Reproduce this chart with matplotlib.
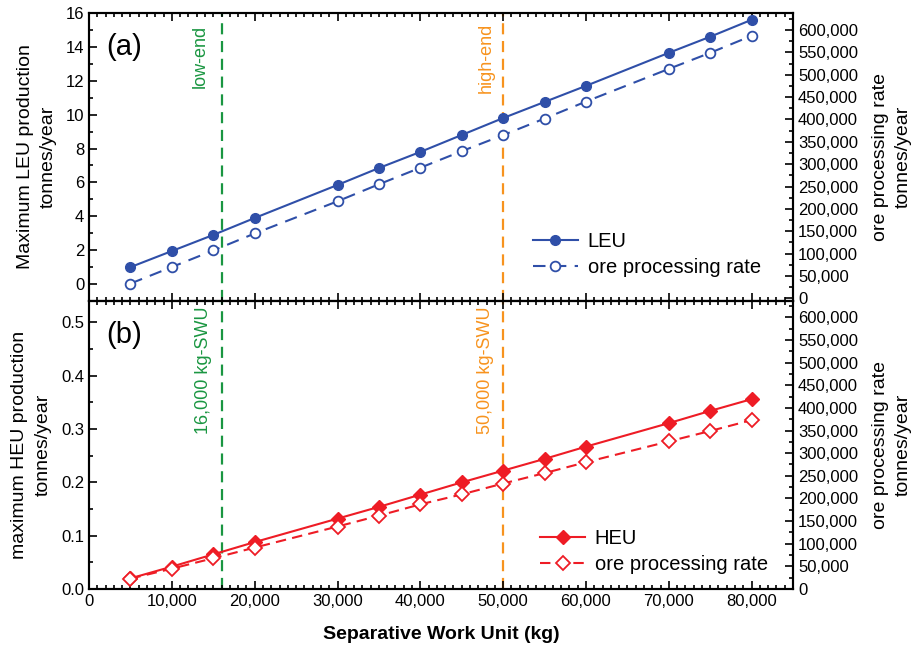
import matplotlib
matplotlib.use("Agg")
import matplotlib.pyplot as plt
from matplotlib.ticker import MultipleLocator, FuncFormatter

plt.rcParams['font.family'] = ['Liberation Sans', 'DejaVu Sans']

# data
swu = [5000, 10000, 15000, 20000, 30000, 35000, 40000, 45000, 50000, 55000, 60000, 70000, 75000, 80000]
leu = [1.0, 1.95, 2.9, 3.9, 5.85, 6.85, 7.8, 8.8, 9.8, 10.75, 11.7, 13.65, 14.6, 15.6]
ore_leu = [33000, 70000, 107000, 145000, 217000, 255000, 292000, 329000, 365000, 402000, 440000, 513000, 549000, 587000]
heu = [0.02, 0.042, 0.065, 0.088, 0.132, 0.154, 0.177, 0.2, 0.222, 0.244, 0.267, 0.311, 0.334, 0.356]
ore_heu = [23000, 45000, 68000, 91500, 138000, 162000, 187000, 209000, 233000, 256000, 280000, 326000, 349000, 373000]
low_end = 16000
high_end = 50000

blue = '#2f4fa8'
red = '#ee1c25'
green = '#1a9641'
orange = '#f7931e'

comma = FuncFormatter(lambda v, p: '{:,.0f}'.format(v))

fig, (ax1, ax2) = plt.subplots(2, 1, sharex=True, figsize=(9.15, 6.5), dpi=100)
plt.subplots_adjust(left=0.0973, right=0.8667, top=0.98, bottom=0.0938, hspace=0)

ax1r = ax1.twinx()
ax2r = ax2.twinx()

# panel (a)
l1, = ax1.plot(swu, leu, '-o', color=blue, lw=1.5, ms=7, label='LEU')
l2, = ax1r.plot(swu, ore_leu, '--o', color=blue, lw=1.5, ms=7, mfc='white', mew=1.3,
                dashes=(6, 4), label='ore processing rate')
ax1.set_ylim(-1, 16)
ax1r.set_ylim(-6000, 638000)
ax1.yaxis.set_major_locator(MultipleLocator(2))
ax1.yaxis.set_minor_locator(MultipleLocator(1))
ax1.set_ylabel('Maximum LEU production\ntonnes/year', fontsize=14, labelpad=6, linespacing=1.45)
ax1.text(0.025, 0.93, '(a)', transform=ax1.transAxes, fontsize=21, va='top')
ax1.legend(handles=[l1, l2], loc='lower right', bbox_to_anchor=(0.98, 0.02), frameon=False,
           fontsize=14.5, handlelength=2.2, handletextpad=0.5, labelspacing=0.35)

# panel (b)
l3, = ax2.plot(swu, heu, '-D', color=red, lw=1.5, ms=7.5, label='HEU')
l4, = ax2r.plot(swu, ore_heu, '--D', color=red, lw=1.5, ms=7.5, mfc='white', mew=1.3,
                dashes=(5, 3), label='ore processing rate')
ax2.set_ylim(0, 0.54)
ax2r.set_ylim(0, 636000)
ax2.yaxis.set_major_locator(MultipleLocator(0.1))
ax2.yaxis.set_minor_locator(MultipleLocator(0.05))
ax2.yaxis.set_major_formatter(FuncFormatter(lambda v, p: '{:.1f}'.format(v)))
ax2.set_ylabel('maximum HEU production\ntonnes/year', fontsize=14, labelpad=7, linespacing=1.45)
ax2.text(0.025, 0.93, '(b)', transform=ax2.transAxes, fontsize=21, va='top')
ax2.legend(handles=[l3, l4], loc='lower right', bbox_to_anchor=(0.99, -0.01), frameon=False,
           fontsize=14.5, handlelength=2.2, handletextpad=0.5, labelspacing=0.35)

ax2.set_xlim(0, 85000)
ax2.xaxis.set_major_locator(MultipleLocator(10000))
ax2.xaxis.set_minor_locator(MultipleLocator(1000))
ax2.xaxis.set_major_formatter(comma)
ax2.set_xlabel('Separative Work Unit (kg)', fontsize=14, fontweight='bold', labelpad=12)

for axr in (ax1r, ax2r):
    axr.yaxis.set_major_locator(MultipleLocator(50000))
    axr.yaxis.set_minor_locator(MultipleLocator(25000))
    axr.yaxis.set_major_formatter(comma)
    axr.set_ylabel('ore processing rate\ntonnes/year', fontsize=14, labelpad=10, linespacing=1.45)

for ax in (ax1, ax2, ax1r, ax2r):
    for s in ax.spines.values():
        s.set_linewidth(1.5)
    ax.tick_params(which='both', direction='in', labelsize=12, width=1.2)
    ax.tick_params(which='major', length=6)
    ax.tick_params(which='minor', length=3)
for ax in (ax1, ax2):
    ax.tick_params(which='both', top=True, bottom=True, left=True, right=False)
ax1.tick_params(labelbottom=False)

# enrichment capacity markers
for ax in (ax1, ax2):
    ax.axvline(low_end, color=green, ls='--', lw=1.6, dashes=(5, 3), zorder=1)
    ax.axvline(high_end, color=orange, ls='--', lw=1.6, dashes=(5, 3), zorder=1)
ax1.text(13400, 15.3, 'low-end', color=green, rotation=90, ha='center', va='top', fontsize=13)
ax1.text(47900, 15.4, 'high-end', color=orange, rotation=90, ha='center', va='top', fontsize=13)
ax2.text(13800, 0.53, '16,000 kg-SWU', color=green, rotation=90, ha='center', va='top', fontsize=13)
ax2.text(47900, 0.53, '50,000 kg-SWU', color=orange, rotation=90, ha='center', va='top', fontsize=13)

fig.savefig('out.png', dpi=100)
